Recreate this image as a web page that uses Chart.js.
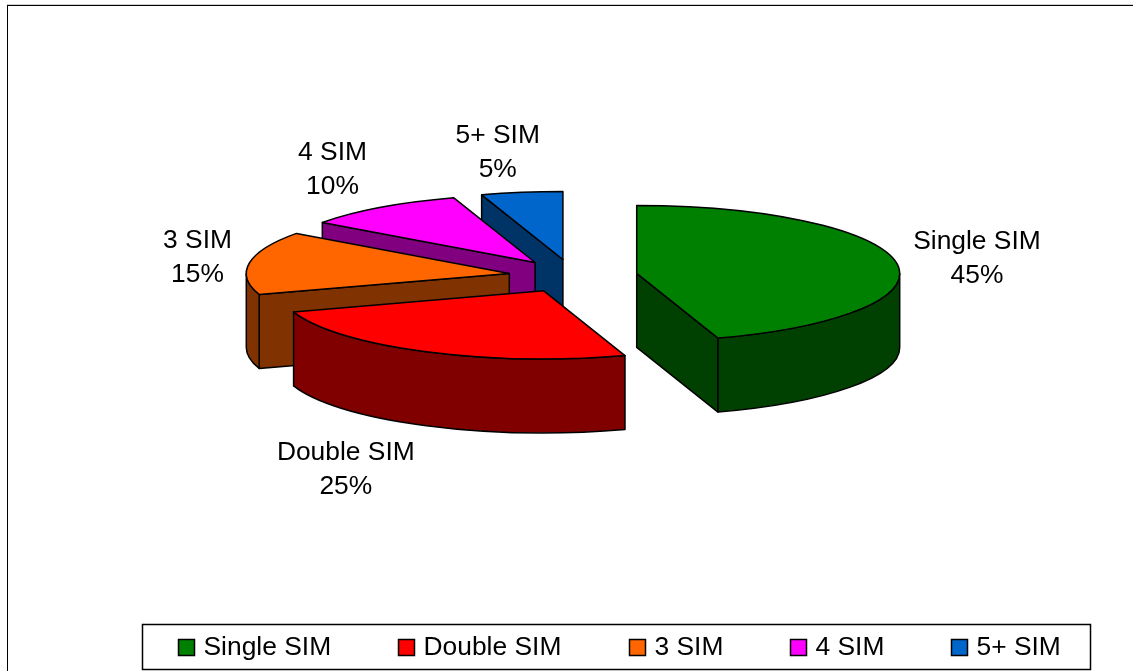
<!DOCTYPE html>
<html>
<head>
<meta charset="utf-8">
<style>
  html, body { margin: 0; padding: 0; background: #fff; overflow: hidden; }
  #wrap { position: relative; width: 1133px; height: 671px; }
</style>
<script src="https://cdn.jsdelivr.net/npm/chart.js@4"></script>
</head>
<body>
<div id="wrap"><canvas id="chart" width="1133" height="671"></canvas></div>
<script>
const categories = ['Single SIM', 'Double SIM', '3 SIM', '4 SIM', '5+ SIM'];
const shares = [45, 25, 15, 10, 5];
const topColors = ['#008000', '#FF0000', '#FF6600', '#FF00FF', '#0066CC'];
const sideColors = ['#004000', '#800000', '#803300', '#800080', '#003366'];

const FONT = '"Liberation Sans", Arial, sans-serif';
const RADIUS = 263;       // horizontal radius of the pie
const TILT = 0.2586;      // vertical squash of the pie plane
const DEPTH = 74;         // height of the extruded wall
const EXPLODE = 64.5;     // how far each slice is pulled from the centre

// Label centre relative to the rim point at the slice's mid-angle.
const labelShift = [[80.5, -4], [-78.5, 118], [-52, -5], [-48, -38], [-24, -40]];
// Order in which slices are painted, back to front.
const paintOrder = [4, 3, 2, 0, 1];
// Legend entries: left edge of each marker.
const legendX = [178, 398, 629, 790, 951];

function sliceGeometry(arc) {
  const { x, y, startAngle, endAngle, outerRadius } = arc.getProps(['x', 'y', 'startAngle', 'endAngle', 'outerRadius'], true);
  const mid = (startAngle + endAngle) / 2;
  const d = arc.options.offset / 4;
  return {
    cx: x + Math.cos(mid) * d,
    cy: y + Math.sin(mid) * d * TILT,
    a0: startAngle, a1: endAngle, mid, r: outerRadius
  };
}

function paintFace(ctx, g, angle) {
  const rx = g.cx + Math.cos(angle) * g.r;
  const ry = g.cy + Math.sin(angle) * g.r * TILT;
  ctx.beginPath();
  ctx.moveTo(g.cx, g.cy);
  ctx.lineTo(rx, ry);
  ctx.lineTo(rx, ry + DEPTH);
  ctx.lineTo(g.cx, g.cy + DEPTH);
  ctx.closePath();
  ctx.fill();
  ctx.stroke();
}

function paintSlice(ctx, arc, i) {
  const g = sliceGeometry(arc);
  ctx.lineWidth = 1.5;
  ctx.strokeStyle = '#000';
  ctx.lineJoin = 'round';
  ctx.fillStyle = sideColors[i];

  // Cut faces that look towards the viewer.
  if (Math.cos(g.a0) < -1e-6) paintFace(ctx, g, g.a0);
  if (Math.cos(g.a1) > 1e-6) paintFace(ctx, g, g.a1);

  // Curved outer wall: only the part of the rim on the near side.
  const w0 = Math.max(g.a0, 0);
  const w1 = Math.min(g.a1, Math.PI);
  if (w1 > w0) {
    ctx.beginPath();
    ctx.ellipse(g.cx, g.cy, g.r, g.r * TILT, 0, w0, w1);
    ctx.ellipse(g.cx, g.cy + DEPTH, g.r, g.r * TILT, 0, w1, w0, true);
    ctx.closePath();
    ctx.fill();
    ctx.stroke();
  }

  // Top surface.
  ctx.beginPath();
  ctx.moveTo(g.cx, g.cy);
  ctx.ellipse(g.cx, g.cy, g.r, g.r * TILT, 0, g.a0, g.a1);
  ctx.closePath();
  ctx.fillStyle = topColors[i];
  ctx.fill();
  ctx.stroke();
}

const pie3d = {
  id: 'pie3d',
  beforeDatasetsDraw(chart) {
    const ctx = chart.ctx;
    const arcs = chart.getDatasetMeta(0).data;
    ctx.save();
    paintOrder.forEach(i => paintSlice(ctx, arcs[i], i));
    ctx.restore();
    return false;
  },
  afterDraw(chart) {
    const ctx = chart.ctx;
    const arcs = chart.getDatasetMeta(0).data;
    ctx.save();

    // Frame along the top and left of the chart.
    ctx.fillStyle = '#d0d0d0';
    ctx.fillRect(7, 4, 1126, 1);
    ctx.fillStyle = '#000';
    ctx.fillRect(7, 5, 1126, 1);
    ctx.fillRect(7, 5, 1, 666);

    // Slice labels: name above percentage.
    ctx.font = '26.4px ' + FONT;
    ctx.textAlign = 'center';
    ctx.textBaseline = 'middle';
    arcs.forEach((arc, i) => {
      const g = sliceGeometry(arc);
      const x = g.cx + Math.cos(g.mid) * g.r + labelShift[i][0];
      const y = g.cy + Math.sin(g.mid) * g.r * TILT + labelShift[i][1];
      ctx.fillText(categories[i], x, y - 17);
      ctx.fillText(shares[i] + '%', x, y + 17);
    });

    // Legend box.
    ctx.strokeStyle = '#000';
    ctx.lineWidth = 1.5;
    ctx.strokeRect(142.5, 624.5, 948, 45);
    ctx.textAlign = 'left';
    categories.forEach((name, i) => {
      ctx.fillStyle = topColors[i];
      ctx.fillRect(legendX[i] + 0.5, 639.5, 16, 16);
      ctx.strokeRect(legendX[i] + 0.5, 639.5, 16, 16);
      ctx.fillStyle = '#000';
      ctx.fillText(name, legendX[i] + 25.5, 648);
    });
    ctx.restore();
  }
};

new Chart(document.getElementById('chart'), {
  type: 'pie',
  data: {
    labels: categories,
    datasets: [{
      data: shares,
      backgroundColor: topColors,
      offset: EXPLODE * 4,
      borderWidth: 0
    }]
  },
  plugins: [pie3d],
  options: {
    responsive: false,
    animation: false,
    radius: RADIUS,
    layout: { padding: { left: 13, right: 0, top: 0, bottom: 119 } },
    plugins: { legend: { display: false }, tooltip: { enabled: false } }
  }
});
</script>
</body>
</html>
